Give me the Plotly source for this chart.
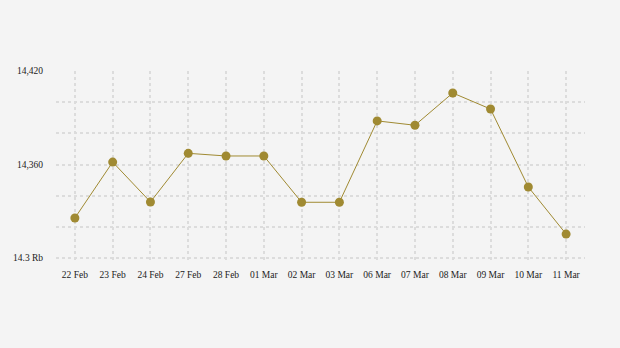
import plotly.graph_objects as go

dates = ["22 Feb", "23 Feb", "24 Feb", "27 Feb", "28 Feb", "01 Mar", "02 Mar",
         "03 Mar", "06 Mar", "07 Mar", "08 Mar", "09 Mar", "10 Mar", "11 Mar"]
values = [14325.7, 14361.6, 14336.0, 14367.2, 14365.5, 14365.5, 14335.8,
          14335.8, 14388.0, 14385.2, 14405.9, 14395.6, 14345.6, 14315.4]
y_tickvals = [14300, 14320, 14340, 14360, 14380, 14400, 14420]
y_ticktext = ["14.3 Rb", "", "", "14,360", "", "", "14,420"]

line_color = "#a08a32"
fig = go.Figure()
fig.add_trace(go.Scatter(
    x=dates, y=values, mode="lines+markers",
    line=dict(color=line_color, width=1),
    marker=dict(color=line_color, size=9),
    hoverinfo="skip",
))

font = dict(family="'Liberation Serif', 'Times New Roman', serif", size=9.5, color="#222")
fig.update_layout(
    width=620, height=348,
    margin=dict(l=56, r=35, t=71, b=86),
    paper_bgcolor="#f4f4f4", plot_bgcolor="#f4f4f4",
    showlegend=False, font=font,
    xaxis=dict(
        type="category", range=[-0.5, 13.5],
        showgrid=True, gridcolor="#dcdcdc", griddash="3px,3px", gridwidth=1.5,
        zeroline=False, showline=False,
        ticks="outside", ticklen=4, tickcolor="rgba(0,0,0,0)",
        tickfont=font,
    ),
    yaxis=dict(
        range=[14297.5, 14420],
        tickvals=y_tickvals, ticktext=y_ticktext,
        showgrid=True, gridcolor="#dcdcdc", griddash="3px,3px", gridwidth=1.5,
        zeroline=False, showline=False,
        ticks="outside", ticklen=10, tickcolor="rgba(0,0,0,0)",
        tickfont=font,
    ),
)
fig.write_html("out.html")
